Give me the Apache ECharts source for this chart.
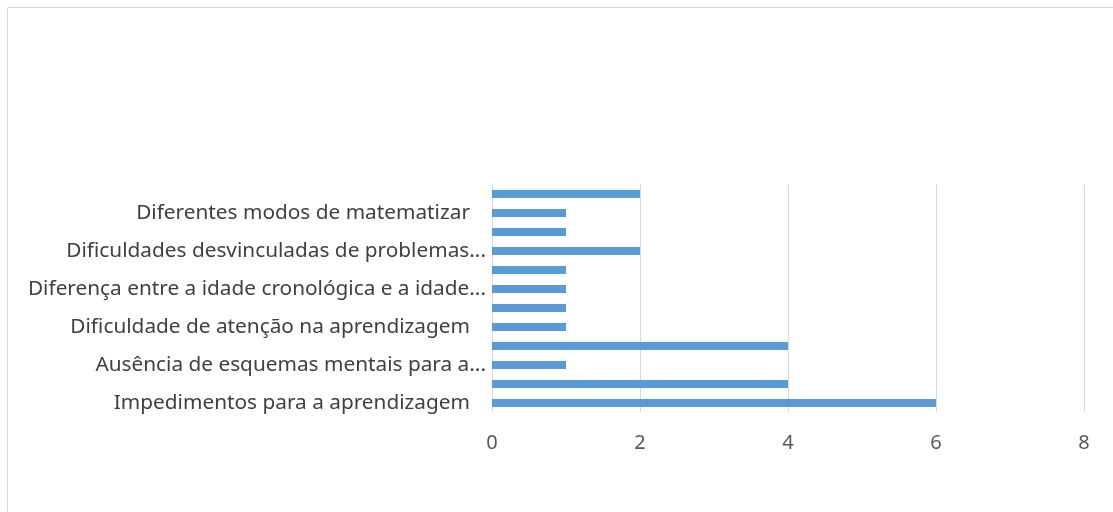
<!DOCTYPE html>
<html>
<head>
<meta charset="utf-8">
<script src="https://cdn.jsdelivr.net/npm/echarts@6/dist/echarts.min.js"></script>
<style>html,body{margin:0;padding:0;background:#fff}#c{width:1113px;height:512px}</style>
</head>
<body>
<div id="c"></div>
<script>
// categories from bottom to top (only every other one is labelled in the reference)
var categories = [
  "Impedimentos para a aprendizagem",
  "(sem rótulo 1)",
  "Ausência de esquemas mentais para a...",
  "(sem rótulo 2)",
  "Dificuldade de atenção na aprendizagem",
  "(sem rótulo 3)",
  "Diferença entre a idade cronológica e a idade...",
  "(sem rótulo 4)",
  "Dificuldades desvinculadas de problemas...",
  "(sem rótulo 5)",
  "Diferentes modos de matematizar",
  "(sem rótulo 6)"
];
var values = [6, 4, 1, 4, 1, 1, 1, 1, 2, 1, 1, 2];
var xTicks = [0, 2, 4, 6, 8];

var chart = echarts.init(document.getElementById('c'));
var FONT = 'Noto Sans';
var FS = 20.8;
chart.setOption({
  animation: false,
  backgroundColor: '#ffffff',
  graphic: [{
    type: 'rect', silent: true,
    shape: {x: 7.5, y: 7.5, width: 1200, height: 600},
    style: {fill: 'none', stroke: '#d9d9d9', lineWidth: 1}
  }],
  grid: {left: 492, right: 29, top: 184.5, bottom: 99.5, containLabel: false},
  xAxis: {
    type: 'value',
    min: xTicks[0], max: xTicks[xTicks.length - 1], interval: 2,
    axisLine: {show: false},
    axisTick: {show: false},
    splitLine: {show: true, lineStyle: {color: '#d9d9d9', width: 1}},
    axisLabel: {color: '#595959', fontFamily: FONT, fontSize: 20, margin: 21}
  },
  yAxis: {
    type: 'category',
    data: categories,
    axisLine: {show: false},
    axisTick: {show: false},
    axisLabel: {
      interval: 1,
      color: '#404040', fontFamily: FONT, fontSize: FS, margin: 6,
      formatter: function (v) {
        return v.slice(-3) === '...' ? '{a|' + v + '}' : '{b|' + v + '}';
      },
      rich: {
        a: {color: '#404040', fontFamily: FONT, fontSize: FS},
        b: {color: '#404040', fontFamily: FONT, fontSize: FS, padding: [0, 16, 0, 0]}
      }
    }
  },
  series: [{
    type: 'bar',
    data: values,
    barWidth: 8,
    itemStyle: {color: '#5b9bd5'}
  }]
});
</script>
</body>
</html>
